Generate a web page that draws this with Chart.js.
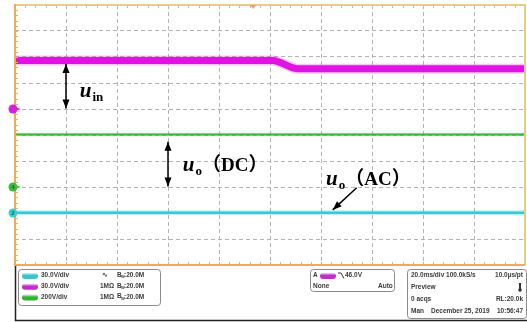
<!DOCTYPE html>
<html>
<head>
<meta charset="utf-8">
<script src="https://cdn.jsdelivr.net/npm/chart.js@4.4.1/dist/chart.umd.min.js"></script>
<style>
  html, body { margin: 0; padding: 0; background: #fff; overflow: hidden; }
  #wrap { position: relative; width: 527px; height: 322px; }
</style>
</head>
<body>
<div id="wrap"><canvas id="scope" width="527" height="322"></canvas></div>
<script>
/* ===================== DATA (screen divisions, 10 x 10 grid) ===================== */

// CH3 input voltage, steps down a little after ~5 div
const ch3Time  = [0, 5.05, 5.55, 10];
const ch3Level = [7.87, 7.87, 7.55, 7.55];

// CH4 output voltage, DC coupled
const ch4Time  = [0, 10];
const ch4Level = [5.02, 5.02];

// CH2 output voltage, AC coupled
const ch2Time  = [0, 10];
const ch2Level = [2.01, 2.01];

// ground markers on the left edge
const markerLabels = ["", "4", "2"];
const markerLevels = [6, 3, 2];
const markerColors = ["#d820d8", "#3cbc3c", "#3ccdd4"];

const triggerTime = 4.67;

// readout panel texts
const chanScales = ["30.0V/div", "30.0V/div", "200V/div"];
const chanImped  = ["", "1MΩ", "1MΩ"];
const chanBw     = [":20.0M", ":20.0M", ":20.0M"];
const chanColors = ["#38c4c8", "#c22cc8", "#34b034"];
const trigLevel  = "46.0V";
const acqLines   = [
  ["20.0ms/div 100.0kS/s", "10.0µs/pt"],
  ["Preview", ""],
  ["0 acqs", "RL:20.0k"],
  ["Man", "10:56:47"]
];
const acqDate = "December 25, 2019";

const TXT = "#3a3a3a";

/* ===================== HELPERS ===================== */

const pts = (xs, ys) => xs.map((x, i) => ({ x: x, y: ys[i] }));

function arrowHead(ctx, x1, y1, x2, y2, len, half) {
  const a = Math.atan2(y2 - y1, x2 - x1);
  ctx.beginPath();
  ctx.moveTo(x2, y2);
  ctx.lineTo(x2 - len * Math.cos(a) + half * Math.sin(a), y2 - len * Math.sin(a) - half * Math.cos(a));
  ctx.lineTo(x2 - len * Math.cos(a) - half * Math.sin(a), y2 - len * Math.sin(a) + half * Math.cos(a));
  ctx.closePath();
  ctx.fill();
}

function arrow(ctx, x1, y1, x2, y2, both) {
  ctx.strokeStyle = "#000";
  ctx.fillStyle = "#000";
  ctx.lineWidth = 1.5;
  ctx.beginPath();
  ctx.moveTo(x1, y1);
  ctx.lineTo(x2, y2);
  ctx.stroke();
  arrowHead(ctx, x1, y1, x2, y2, 9, 3.5);
  if (both) arrowHead(ctx, x2, y2, x1, y1, 9, 3.5);
}

function label(ctx, x, y, sub, rest) {
  ctx.fillStyle = "#000";
  ctx.textBaseline = "alphabetic";
  ctx.textAlign = "left";
  ctx.font = 'italic bold 21px "Liberation Serif"';
  ctx.fillText("u", x, y);
  let cx = x + ctx.measureText("u").width + 1;
  ctx.font = 'bold 13px "Liberation Serif"';
  ctx.fillText(sub, cx, y + 4);
  cx += ctx.measureText(sub).width;
  if (rest) {
    ctx.font = 'bold 19px "Liberation Serif", "Noto Sans CJK SC"';
    ctx.fillText(rest, cx, y);
  }
}

function pill(ctx, x, y, w, h, color) {
  const g = ctx.createLinearGradient(0, y, 0, y + h);
  g.addColorStop(0, "#ffffff");
  g.addColorStop(0.45, color);
  g.addColorStop(1, color);
  ctx.fillStyle = g;
  ctx.beginPath();
  ctx.roundRect(x, y, w, h, h / 2);
  ctx.fill();
  ctx.fillStyle = TXT;
}

function box(ctx, x, y, w, h) {
  ctx.fillStyle = "#fff";
  ctx.strokeStyle = "#8a8a8a";
  ctx.lineWidth = 1;
  ctx.beginPath();
  ctx.roundRect(x + 0.5, y + 0.5, w, h, 3);
  ctx.fill();
  ctx.stroke();
  ctx.fillStyle = TXT;
}

/* ===================== PLUGIN: frame, markers, notes, readout ===================== */

const scopeDecor = {
  id: "scopeDecor",
  afterDraw(chart) {
    const ctx = chart.ctx;
    const xs = chart.scales.x, ys = chart.scales.y;
    const a = chart.chartArea;
    const X = v => xs.getPixelForValue(v);
    const Y = v => ys.getPixelForValue(v);
    ctx.save();

    // minor ticks on the edges
    ctx.strokeStyle = "#c9b98a";
    ctx.lineWidth = 1;
    ctx.beginPath();
    for (let i = 1; i < 50; i++) {
      const px = Math.round(X(i * 0.2)) + 0.5;
      ctx.moveTo(px, a.top); ctx.lineTo(px, a.top + 3);
      ctx.moveTo(px, a.bottom); ctx.lineTo(px, a.bottom - 3);
      const py = Math.round(Y(i * 0.2)) + 0.5;
      ctx.moveTo(a.left, py); ctx.lineTo(a.left + 3, py);
    }
    ctx.stroke();

    // graticule frame
    ctx.lineWidth = 2;
    ctx.strokeStyle = "#e4cc82";
    ctx.beginPath();
    ctx.moveTo(a.left, a.top); ctx.lineTo(a.right, a.top); ctx.lineTo(a.right, a.bottom);
    ctx.stroke();
    ctx.strokeStyle = "#f2aa50";
    ctx.beginPath();
    ctx.moveTo(a.left, a.top - 1); ctx.lineTo(a.left, a.bottom); ctx.lineTo(a.right, a.bottom);
    ctx.stroke();

    // trigger position marker
    const tx = X(triggerTime);
    ctx.fillStyle = "#f0a040";
    ctx.beginPath();
    ctx.moveTo(tx - 3, a.top); ctx.lineTo(tx + 3, a.top); ctx.lineTo(tx, a.top + 4);
    ctx.closePath(); ctx.fill();

    // ground markers
    markerLevels.forEach((lv, i) => {
      const py = Y(lv), cx = a.left - 2;
      ctx.fillStyle = markerColors[i];
      ctx.beginPath();
      ctx.moveTo(cx + 3, py - 1.5); ctx.lineTo(cx + 8, py); ctx.lineTo(cx + 3, py + 1.5);
      ctx.closePath(); ctx.fill();
      ctx.beginPath();
      ctx.arc(cx, py, 4.5, 0, Math.PI * 2);
      ctx.fill();
      if (markerLabels[i]) {
        ctx.fillStyle = "#1f6e2a";
        ctx.font = 'bold 6px "Liberation Sans"';
        ctx.textAlign = "center";
        ctx.textBaseline = "middle";
        ctx.fillText(markerLabels[i], cx, py + 0.5);
      }
    });

    // annotations
    arrow(ctx, X(1), Y(7.73), X(1), Y(6.02), true);
    label(ctx, X(1.27), Y(6.45), "in");
    arrow(ctx, X(3), Y(4.74), X(3), Y(3.02), true);
    label(ctx, X(3.29), Y(3.6), "o", "（DC）");
    label(ctx, X(6.1), Y(3.08), "o", "（AC）");
    arrow(ctx, X(6.7), Y(2.97), X(6.23), Y(2.12), false);

    // readout area
    ctx.strokeStyle = "#222";
    ctx.lineWidth = 1.5;
    ctx.beginPath();
    ctx.moveTo(15.5, a.bottom + 1); ctx.lineTo(15.5, 320.5); ctx.lineTo(527, 320.5);
    ctx.stroke();

    ctx.textBaseline = "middle";
    ctx.textAlign = "left";
    const f = 'bold 6.5px "Liberation Sans"';

    // channel box
    box(ctx, 18, 269, 142, 36);
    chanScales.forEach((s, i) => {
      const cy = 275.5 + i * 10.8;
      pill(ctx, 22, cy - 3, 16, 6.5, chanColors[i]);
      ctx.font = f;
      ctx.fillText(s, 41, cy);
      if (chanImped[i]) ctx.fillText(chanImped[i], 100, cy);
      else ctx.fillText("∿", 102, cy);
      ctx.fillText("B", 117, cy - 0.5);
      ctx.font = 'bold 4px "Liberation Sans"';
      ctx.fillText("W", 121, cy + 1.5);
      ctx.font = f;
      ctx.fillText(chanBw[i], 124, cy);
    });

    // trigger box
    box(ctx, 310, 269, 84, 22);
    ctx.font = f;
    ctx.fillText("A", 313, 275.5);
    pill(ctx, 320, 272.5, 16, 6.5, chanColors[1]);
    ctx.strokeStyle = TXT;
    ctx.lineWidth = 1;
    ctx.beginPath();
    ctx.moveTo(338, 273); ctx.lineTo(341, 273); ctx.lineTo(344, 278.5);
    ctx.stroke();
    ctx.fillText(trigLevel, 345, 275.5);
    ctx.fillText("None", 313, 286);
    ctx.fillText("Auto", 378, 286);

    // acquisition box
    box(ctx, 407, 269, 119, 49);
    ctx.font = f;
    acqLines.forEach((ln, i) => {
      const cy = 275.5 + i * 12;
      ctx.textAlign = "left";
      ctx.fillText(ln[0], 411, cy);
      ctx.textAlign = "right";
      if (ln[1]) ctx.fillText(ln[1], 523, cy);
    });
    ctx.textAlign = "left";
    ctx.fillText(acqDate, 431, 311.5);
    // thermometer icon
    ctx.fillStyle = "#333";
    ctx.fillRect(519, 283, 2, 6);
    ctx.beginPath();
    ctx.arc(520, 290, 1.8, 0, Math.PI * 2);
    ctx.fill();

    ctx.restore();
  }
};

/* ===================== CHART ===================== */

const trace = (data, color, width) => ({
  data: data,
  borderColor: color,
  borderWidth: width,
  pointRadius: 0,
  cubicInterpolationMode: "monotone",
  borderCapStyle: "butt",
  fill: false
});

new Chart(document.getElementById("scope"), {
  type: "line",
  data: {
    datasets: [
      trace(pts(ch3Time, ch3Level), "#e014e0", 7),
      trace(pts(ch4Time, ch4Level), "#3cb83c", 2),
      trace(pts(ch2Time, ch2Level), "#38cad2", 2.5),
      trace(pts(ch3Time, ch3Level), "rgba(232,90,232,0.35)", 10),
      trace(pts(ch4Time, ch4Level), "rgba(60,184,60,0.3)", 3.5),
      trace(pts(ch2Time, ch2Level), "rgba(56,202,210,0.3)", 5)
    ]
  },
  options: {
    responsive: false,
    animation: false,
    devicePixelRatio: 1,
    layout: { padding: { left: 15, top: 5, right: 2, bottom: 57 } },
    plugins: { legend: { display: false }, tooltip: { enabled: false } },
    scales: {
      x: {
        type: "linear", min: 0, max: 10,
        ticks: { display: false, stepSize: 1 },
        grid: { color: "#b4b4b4", lineWidth: 1, drawTicks: false },
        border: { display: false, dash: [4, 3] }
      },
      y: {
        type: "linear", min: 0, max: 10,
        ticks: { display: false, stepSize: 1 },
        grid: { color: "#b4b4b4", lineWidth: 1, drawTicks: false },
        border: { display: false, dash: [4, 3] }
      }
    }
  },
  plugins: [scopeDecor]
});
</script>
</body>
</html>
